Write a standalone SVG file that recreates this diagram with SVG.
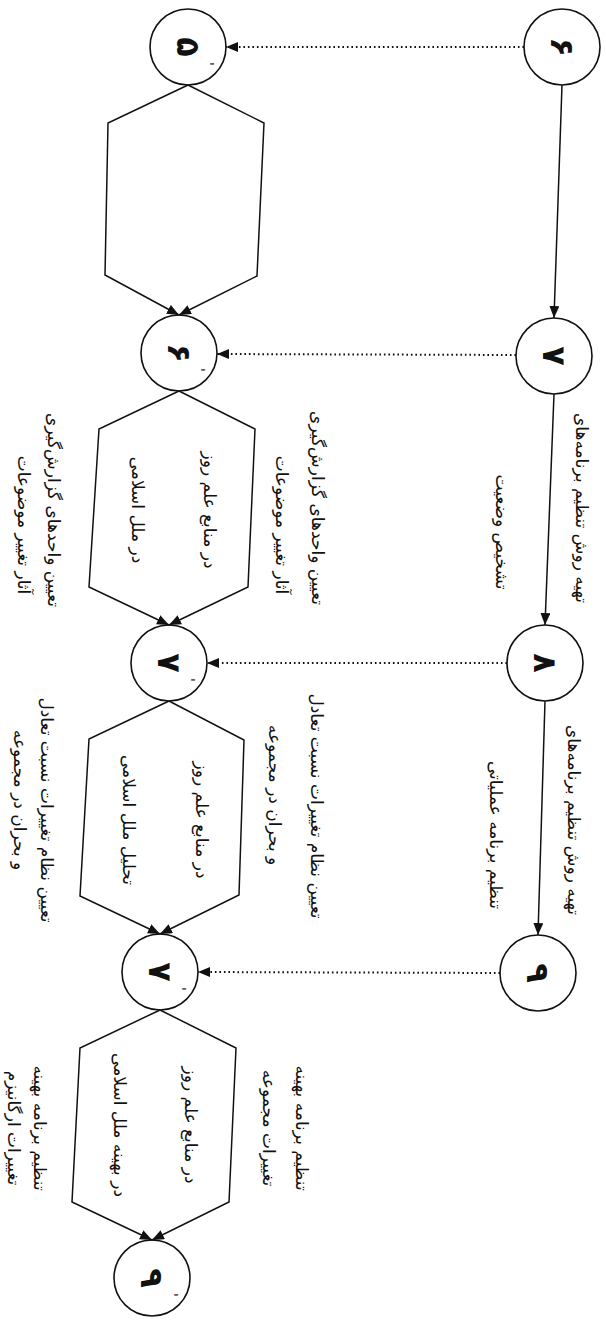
<svg xmlns="http://www.w3.org/2000/svg" width="606" height="1320" viewBox="0 0 606 1320">
<style>
.bg{fill:#ffffff}
.node circle{fill:none;stroke:#111;stroke-width:1.6}
.edge{fill:none;stroke:#111;stroke-width:1.5}
.dot{fill:none;stroke:#111;stroke-width:2;stroke-dasharray:1.6 2.9}
.dig{font-family:"DejaVu Sans","Noto Sans",sans-serif;font-size:32px;font-weight:bold;fill:#111;text-anchor:middle;dominant-baseline:central}
.pr{font-family:"DejaVu Sans",sans-serif;font-size:14px;fill:#111;text-anchor:middle}
.t{font-family:"DejaVu Sans","Noto Sans",sans-serif;font-size:17px;fill:#111;text-anchor:middle}
</style>
<defs>
<marker id="ah" viewBox="0 0 12 10" refX="12" refY="5" markerWidth="12" markerHeight="10" markerUnits="userSpaceOnUse" orient="auto">
<path d="M0,0 L12,5 L0,10 Z" fill="#111"/>
</marker>
</defs>
<rect class="bg" x="0" y="0" width="606" height="1320"/>

<g id="connectors">
<path class="edge" d="M562,85 L554,318" marker-end="url(#ah)"/>
<path class="edge" d="M554,394 L545,625" marker-end="url(#ah)"/>
<path class="edge" d="M545,701 L538,935" marker-end="url(#ah)"/>
<path class="dot" d="M524,47 L226,47" marker-end="url(#ah)"/>
<path class="dot" d="M516,355 L217,354" marker-end="url(#ah)"/>
<path class="dot" d="M507,663 L207,663" marker-end="url(#ah)"/>
<path class="dot" d="M500,973 L198,972" marker-end="url(#ah)"/>
<path class="edge" d="M188,85 L108,123 L105,275 L179,315" marker-end="url(#ah)"/>
<path class="edge" d="M188,85 L264,123 L257,276 L179,315" marker-end="url(#ah)"/>
<path class="edge" d="M179,391 L99,429 L89,587 L169,625" marker-end="url(#ah)"/>
<path class="edge" d="M179,391 L255,429 L248,587 L169,625" marker-end="url(#ah)"/>
<path class="edge" d="M169,701 L89,739 L80,896 L160,934" marker-end="url(#ah)"/>
<path class="edge" d="M169,701 L244,740 L239,895 L160,934" marker-end="url(#ah)"/>
<path class="edge" d="M160,1010 L80,1048 L72,1202 L152,1240" marker-end="url(#ah)"/>
<path class="edge" d="M160,1010 L236,1048 L229,1202 L152,1240" marker-end="url(#ah)"/>
</g>

<g id="r6" class="node"><circle cx="562" cy="47" r="38"/><text class="dig" transform="translate(562,47) rotate(90)">۶</text></g>
<g id="r7" class="node"><circle cx="554" cy="356" r="38"/><text class="dig" transform="translate(554,356) rotate(90)">۷</text></g>
<g id="r8" class="node"><circle cx="545" cy="663" r="38"/><text class="dig" transform="translate(545,663) rotate(90)">۸</text></g>
<g id="r9" class="node"><circle cx="538" cy="973" r="38"/><text class="dig" transform="translate(538,973) rotate(90)">۹</text></g>

<g id="l5" class="node"><circle cx="188" cy="47" r="38"/><text class="dig" transform="translate(188,47) rotate(90)">۵</text><text class="pr" transform="translate(204,64) rotate(90)">'</text></g>
<g id="l6" class="node"><circle cx="179" cy="353" r="38"/><text class="dig" transform="translate(179,353) rotate(90)">۶</text><text class="pr" transform="translate(195,370) rotate(90)">'</text></g>
<g id="l7" class="node"><circle cx="169" cy="663" r="38"/><text class="dig" transform="translate(169,663) rotate(90)">۷</text><text class="pr" transform="translate(185,680) rotate(90)">'</text></g>
<g id="l8" class="node"><circle cx="160" cy="972" r="38"/><text class="dig" transform="translate(160,972) rotate(90)">۷</text><text class="pr" transform="translate(176,989) rotate(90)">'</text></g>
<g id="l9" class="node"><circle cx="152" cy="1278" r="38"/><text class="dig" transform="translate(152,1278) rotate(90)">۹</text><text class="pr" transform="translate(168,1295) rotate(90)">'</text></g>

<g id="labels">
<text class="t" transform="translate(576,508) rotate(90)">تهیه روش تنظیم برنامه‌های</text>
<text class="t" transform="translate(496,532) rotate(90)">تشخیص وضعیت</text>
<text class="t" transform="translate(568,820) rotate(90)">تهیه روش تنظیم برنامه‌های</text>
<text class="t" transform="translate(490,835) rotate(90)">تنظیم برنامه عملیاتی</text>

<text class="t" transform="translate(312,508) rotate(90)">تعیین واحدهای گزارش‌گیری</text>
<text class="t" transform="translate(276,525) rotate(90)">آثار تغییر موضوعات</text>
<text class="t" transform="translate(311,806) rotate(90)">تعیین نظام تغییرات نسبت تعادل</text>
<text class="t" transform="translate(269,795) rotate(90)">و بحران در مجموعه</text>
<text class="t" transform="translate(296,1128) rotate(90)">تنظیم برنامه بهینه</text>
<text class="t" transform="translate(263,1128) rotate(90)">تغییرات مجموعه</text>

<text class="t" transform="translate(204,510) rotate(90)">در منابع علم روز</text>
<text class="t" transform="translate(132,510) rotate(90)">در ملل اسلامی</text>
<text class="t" transform="translate(196,820) rotate(90)">در منابع علم روز</text>
<text class="t" transform="translate(123,820) rotate(90)">تحلیل ملل اسلامی</text>
<text class="t" transform="translate(185,1125) rotate(90)">در منابع علم روز</text>
<text class="t" transform="translate(114,1125) rotate(90)">در بهینه ملل اسلامی</text>

<text class="t" transform="translate(48,510) rotate(90)">تعیین واحدهای گزارش‌گیری</text>
<text class="t" transform="translate(18,525) rotate(90)">آثار تغییر موضوعات</text>
<text class="t" transform="translate(41,810) rotate(90)">تعیین نظام تغییرات نسبت تعادل</text>
<text class="t" transform="translate(14,800) rotate(90)">و بحران در مجموعه</text>
<text class="t" transform="translate(34,1128) rotate(90)">تنظیم برنامه بهینه</text>
<text class="t" transform="translate(8,1128) rotate(90)">تغییرات ارگانیزم</text>
</g>
</svg>
